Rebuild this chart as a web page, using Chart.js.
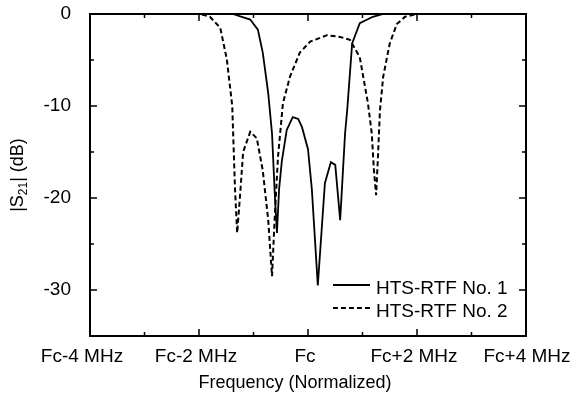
<!DOCTYPE html>
<html>
<head>
<meta charset="utf-8">
<script src="https://cdn.jsdelivr.net/npm/chart.js@4/dist/chart.umd.min.js"></script>
<style>
  html, body { margin: 0; padding: 0; background: #fff; }
  #wrap { width: 574px; height: 398px; }
</style>
</head>
<body>
<div id="wrap"><canvas id="s21Chart"></canvas></div>
<script>
// offset from the centre frequency, MHz
const freq1 = [-4, -1.38, -1.06, -0.92, -0.83, -0.73, -0.66, -0.61, -0.57, -0.53, -0.48, -0.39, -0.28, -0.18, -0.11, 0, 0.07, 0.18, 0.31, 0.42, 0.50, 0.59, 0.68, 0.72, 0.81, 0.95, 1.19, 1.38, 4];
const s21_1 = [0, 0, -0.6, -1.7, -4.2, -8.6, -13, -19.5, -23.8, -19, -16, -12.6, -11.2, -11.4, -12.3, -14.7, -19, -29.5, -18.4, -16.1, -16.4, -22.4, -13, -10.4, -3.2, -1, -0.3, 0, 0];

const freq2 = [-4, -1.98, -1.80, -1.61, -1.49, -1.39, -1.34, -1.30, -1.25, -1.19, -1.06, -0.94, -0.83, -0.73, -0.66, -0.61, -0.55, -0.46, -0.33, -0.15, 0.04, 0.35, 0.59, 0.77, 0.95, 1.10, 1.17, 1.21, 1.25, 1.28, 1.32, 1.38, 1.50, 1.63, 1.78, 2.00, 4];
const s21_2 = [0, 0, -0.3, -1.5, -4.9, -10, -18.9, -23.8, -20, -15, -12.8, -13.5, -17, -22.4, -28.5, -22, -15.5, -9.7, -6.8, -4.2, -3, -2.3, -2.5, -2.8, -4.7, -9.7, -13, -17, -19.7, -16, -10.5, -6.8, -3.2, -1.1, -0.3, 0, 0];

const seriesNames = ["HTS-RTF No. 1", "HTS-RTF No. 2"];
const xTickValues = [-4, -2, 0, 2, 4];
const xTickLabels = ["Fc-4 MHz", "Fc-2 MHz", "Fc", "Fc+2 MHz", "Fc+4 MHz"];
const yTickLabels = [0, -10, -20, -30];

const FONT = "Arial, 'Liberation Sans', sans-serif";
const toPoints = (xs, ys) => xs.map((x, i) => ({ x: x, y: ys[i] }));

// frame with inward ticks on all four sides, x labels, axis titles and the legend
const framePlugin = {
    id: "frame",
    afterDraw(chart) {
        const { ctx, chartArea: a, scales } = chart;
        const x = scales.x, y = scales.y;
        ctx.save();
        ctx.strokeStyle = "#000";
        ctx.lineWidth = 2;
        ctx.strokeRect(a.left, a.top, a.right - a.left, a.bottom - a.top);

        ctx.lineWidth = 1.5;
        ctx.beginPath();
        for (let v = -4; v <= 4; v += 1) {
            const px = x.getPixelForValue(v);
            const len = v % 2 === 0 ? 7 : 4;
            ctx.moveTo(px, a.bottom); ctx.lineTo(px, a.bottom - len);
            ctx.moveTo(px, a.top); ctx.lineTo(px, a.top + len);
        }
        for (let v = -35; v <= 0; v += 5) {
            const py = y.getPixelForValue(v);
            const len = v % 10 === 0 ? 7 : 4;
            ctx.moveTo(a.left, py); ctx.lineTo(a.left + len, py);
            ctx.moveTo(a.right, py); ctx.lineTo(a.right - len, py);
        }
        ctx.stroke();

        ctx.fillStyle = "#000";
        ctx.textBaseline = "alphabetic";

        // x tick labels; the first one sits a little left of its tick
        ctx.font = "19px " + FONT;
        ctx.textAlign = "center";
        xTickValues.forEach((v, i) => {
            const shift = i === 0 ? -8 : (i === xTickValues.length - 1 ? 1 : -3);
            ctx.fillText(xTickLabels[i], x.getPixelForValue(v) + shift, a.bottom + 26);
        });

        // x title
        ctx.font = "18px " + FONT;
        ctx.fillText("Frequency (Normalized)", (a.left + a.right) / 2 - 13, a.bottom + 52);

        // y title |S21| (dB) with subscript
        ctx.save();
        ctx.translate(23, (a.top + a.bottom) / 2);
        ctx.rotate(-Math.PI / 2);
        ctx.textAlign = "left";
        const big = "18px " + FONT, small = "12px " + FONT;
        ctx.font = big;
        const w1 = ctx.measureText("|S").width;
        const w3 = ctx.measureText("| (dB)").width;
        ctx.font = small;
        const w2 = ctx.measureText("21").width;
        let cx = -(w1 + w2 + w3) / 2;
        ctx.font = big; ctx.fillText("|S", cx, 0); cx += w1;
        ctx.font = small; ctx.fillText("21", cx, 4); cx += w2;
        ctx.font = big; ctx.fillText("| (dB)", cx, 0);
        ctx.restore();

        // legend
        ctx.font = "19px " + FONT;
        ctx.textAlign = "left";
        ctx.textBaseline = "middle";
        const rows = [285, 308];
        chart.data.datasets.forEach((ds, i) => {
            ctx.beginPath();
            ctx.lineWidth = ds.borderWidth;
            ctx.setLineDash(ds.borderDash || []);
            ctx.moveTo(333, rows[i]);
            ctx.lineTo(370, rows[i]);
            ctx.stroke();
            ctx.setLineDash([]);
            ctx.fillText(ds.label, 376, rows[i] + 4);
        });
        ctx.restore();
    }
};

new Chart("s21Chart", {
    type: "line",
    data: {
        datasets: [{
            label: seriesNames[0],
            data: toPoints(freq1, s21_1),
            borderColor: "#000",
            borderWidth: 1.8,
            pointRadius: 0,
            tension: 0
        }, {
            label: seriesNames[1],
            data: toPoints(freq2, s21_2),
            borderColor: "#000",
            borderWidth: 2,
            borderDash: [5, 3],
            pointRadius: 0,
            tension: 0
        }]
    },
    options: {
        responsive: true,
        maintainAspectRatio: false,
        animation: false,
        layout: { padding: { left: 0, right: 48, top: 14, bottom: 0 } },
        scales: {
            x: {
                type: "linear",
                min: -4,
                max: 4,
                grid: { display: false },
                border: { display: false },
                ticks: { display: false, stepSize: 1 },
                afterFit: (scale) => {
                    scale.height = 62;
                    scale.paddingLeft = 0;
                    scale.paddingRight = 0;
                }
            },
            y: {
                min: -35,
                max: 0,
                grid: { display: false },
                border: { display: false },
                ticks: {
                    stepSize: 5,
                    autoSkip: false,
                    padding: 11,
                    color: "#000",
                    font: { family: FONT, size: 19 },
                    callback: (value) => yTickLabels.includes(value) ? String(value) : ""
                },
                afterFit: (scale) => {
                    scale.width = 90;
                    scale.paddingTop = 0;
                    scale.paddingBottom = 0;
                }
            }
        },
        plugins: {
            legend: { display: false },
            tooltip: { enabled: false }
        }
    },
    plugins: [framePlugin]
});
</script>
</body>
</html>
